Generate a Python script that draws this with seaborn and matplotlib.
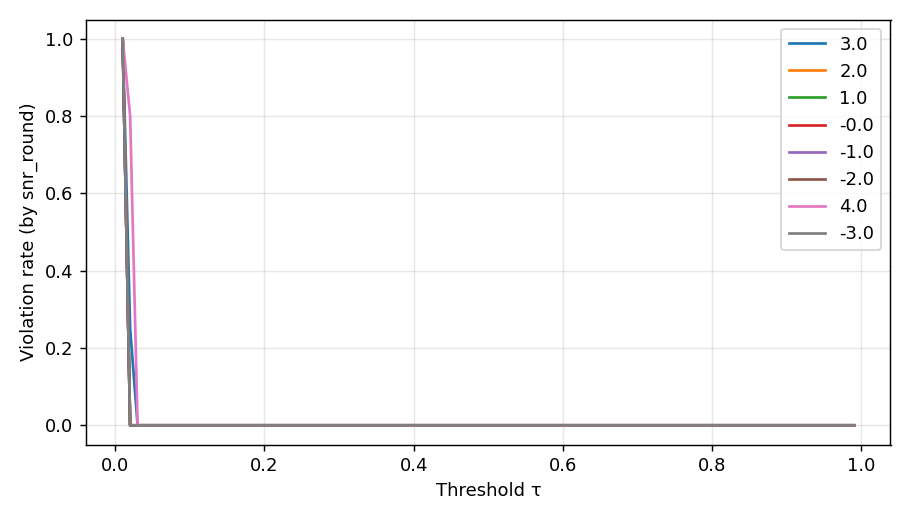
import matplotlib
matplotlib.use("Agg")
import matplotlib.pyplot as plt
import seaborn as sns
import numpy as np
import pandas as pd

# thresholds tau = 0.01 ... 0.99
thresholds = np.round(np.arange(1, 100) / 100, 2)

# snr groups in the order they were plotted
snr_labels = ["3.0", "2.0", "1.0", "-0.0", "-1.0", "-2.0", "4.0", "-3.0"]

# leading violation rates per group (rest of the curve is 0)
head_3 = [1.0, 0.25, 0.0]
head_2 = [1.0, 0.0]
head_1 = [1.0, 0.0]
head_m0 = [1.0, 0.0]
head_m1 = [1.0, 0.0]
head_m2 = [1.0, 0.0]
head_4 = [1.0, 0.80, 0.0]
head_m3 = [1.0, 0.0]
heads = [head_3, head_2, head_1, head_m0, head_m1, head_m2, head_4, head_m3]

rows = []
for lab, head in zip(snr_labels, heads):
    vals = head + [0.0] * (len(thresholds) - len(head))
    for t, v in zip(thresholds, vals):
        rows.append({"tau": t, "rate": v, "snr": lab})
df = pd.DataFrame(rows)

fig, ax = plt.subplots(figsize=(7, 4), dpi=130)
sns.lineplot(data=df, x="tau", y="rate", hue="snr", hue_order=snr_labels,
             palette="tab10", linewidth=1.5, ax=ax)

ax.set_xlabel("Threshold τ")
ax.set_ylabel("Violation rate (by snr_round)")
ax.grid(True, alpha=0.3)
ax.legend(loc="upper right", title=None)

plt.tight_layout()
plt.savefig("out.png", dpi=130)
